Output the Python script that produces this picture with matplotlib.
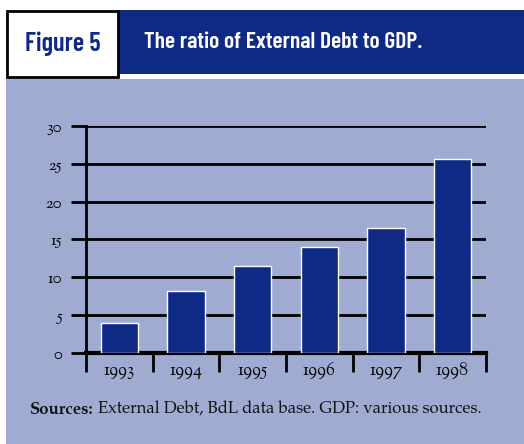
import matplotlib
matplotlib.use("Agg")
import matplotlib.pyplot as plt
from matplotlib.patches import Rectangle
from matplotlib import font_manager

years = ["1993", "1994", "1995", "1996", "1997", "1998"]
ratio = [4.0, 8.15, 11.5, 14.0, 16.5, 25.6]
yticks = [0, 5, 10, 15, 20, 25, 30]

navy = "#0e2a84"
panel = "#9fabd1"

W, H = 524, 444
def fx(px): return px / W
def fy(py): return 1 - py / H

names = {f.name for f in font_manager.fontManager.ttflist}
def pick(*fams):
    for f in fams:
        if f in names:
            return f
    return "DejaVu Sans"

cond = pick("Barlow Condensed", "Roboto Condensed", "Liberation Sans Narrow")
goudy = pick("Sorts Mill Goudy", "EB Garamond", "Liberation Serif")
body = pick("TeX Gyre Pagella", "Palatino", "Crimson Text", "Liberation Serif")

fig = plt.figure(figsize=(W / 100, H / 100), dpi=100)
fig.patch.set_facecolor("white")

# light panel behind the chart
fig.patches.append(Rectangle((fx(6), 0), 1 - fx(6), fy(79), transform=fig.transFigure,
                             facecolor=panel, edgecolor="none", zorder=-3))
# title band
fig.patches.append(Rectangle((fx(118), fy(74)), 1 - fx(118), fy(10) - fy(74),
                             transform=fig.transFigure, facecolor=navy, edgecolor="none", zorder=-2))
# figure label box
fig.patches.append(Rectangle((fx(7), fy(77)), fx(118) - fx(7), fy(11) - fy(77),
                             transform=fig.transFigure, facecolor="white", edgecolor="black",
                             linewidth=2, zorder=-1))
fig.text(fx(63), fy(44), "Figure 5", color=navy, fontsize=19, fontweight="semibold",
         family=cond, ha="center", va="center", zorder=3)
fig.text(fx(144), fy(42), "The ratio of External Debt to GDP.", color="white", fontsize=17,
         fontweight="semibold", family=cond, ha="left", va="center", zorder=3)

ax = fig.add_axes([fx(86), fy(353), fx(486) - fx(86), fy(126) - fy(353)], zorder=5)
ax.set_facecolor("none")
x = range(len(years))
ax.bar(x, ratio, width=0.56, color=navy, edgecolor="white", linewidth=1, zorder=3)
ax.set_xlim(-0.5, len(years) - 0.5)
ax.set_ylim(0, 30)
ax.set_yticks(yticks)
ax.set_yticklabels([str(v) for v in yticks], family=goudy, fontsize=12)
ax.yaxis.grid(True, color="black", linewidth=2)
ax.set_axisbelow(True)
ax.tick_params(axis="y", length=11, width=2, pad=6)

ax.set_xticks(list(x))
ax.set_xticklabels(years, family=goudy, fontsize=13)
ax.set_xticks([i - 0.5 for i in range(len(years) + 1)], minor=True)
ax.tick_params(axis="x", which="major", length=0, pad=6)
ax.tick_params(axis="x", which="minor", length=14, width=2)

for s in ["top", "right"]:
    ax.spines[s].set_visible(False)
ax.spines["left"].set_linewidth(2)
ax.spines["bottom"].set_linewidth(3)

# source line: bold lead-in followed by regular text
t1 = fig.text(fx(30), fy(410), "Sources:", fontsize=12, family=body,
              fontweight="bold", ha="left", va="center", color="#111111")
fig.canvas.draw()
bb = t1.get_window_extent()
fig.text((bb.x1 + 4) / W, fy(410), "External Debt, BdL data base. GDP: various sources.",
         fontsize=12, family=body, ha="left", va="center", color="#111111")

fig.savefig("out.png", dpi=100)
